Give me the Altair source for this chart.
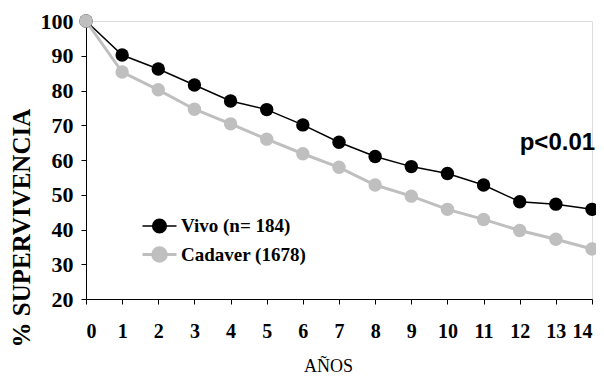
import altair as alt
import pandas as pd

years = list(range(15))
vivo = [100, 90.2, 86.2, 81.6, 77.0, 74.5, 70.1, 65.1, 61.0, 58.1, 56.1, 52.8, 48.0, 47.3, 45.8]
cadaver = [100, 85.3, 80.2, 74.6, 70.4, 66.0, 61.8, 57.9, 52.8, 49.6, 45.8, 42.9, 39.7, 37.2, 34.4]
y_ticks = list(range(20, 101, 10))
series_names = ["Vivo (n= 184)", "Cadaver (1678)"]
series_colors = ["#000000", "#bfbfbf"]
annot_text = ["p<0.01"]
annot_x = [12.0]
annot_y = [62.9]

rows = []
for name, vals in zip(series_names, [vivo, cadaver]):
    for yr, v in zip(years, vals):
        rows.append({"year": yr, "surv": v, "serie": name})
df = pd.DataFrame(rows)
ann = pd.DataFrame({"t": annot_text, "x": annot_x, "y": annot_y})

SERIF = "Liberation Serif"

xs = alt.Scale(domain=[0, 14], nice=False)
ys = alt.Scale(domain=[20, 100], nice=False)
cs = alt.Scale(domain=series_names, range=series_colors)

sym = "M-1,0 L-0.4,0 M0.4,0 L1,0 M-0.4,0 A0.4,0.4 0 1,0 0.4,0 A0.4,0.4 0 1,0 -0.4,0 Z"

x_enc = alt.X("year:Q", scale=xs, axis=alt.Axis(
    title="AÑOS", values=years, format="d", labelOverlap=False, tickCount=15,
    labelFontSize=20, labelPadding=17,
    titleFontWeight="normal", titleFontSize=18, titlePadding=16, titleX=242))
y_enc = alt.Y("surv:Q", scale=ys, axis=alt.Axis(
    title="% SUPERVIVENCIA", values=y_ticks, labelOverlap=False, tickCount=9,
    labelFontSize=22, labelPadding=8,
    titleFontWeight="bold", titleFontSize=25,
    titleAngle=270, titleAlign="left", titleBaseline="alphabetic",
    titleX=-57, titleY=326))

base = alt.Chart(df).encode(x=x_enc, y=y_enc)

lines = base.mark_line().encode(
    color=alt.Color("serie:N", scale=cs, sort=series_names, legend=alt.Legend(
        title=None, orient="none", legendX=55, legendY=187,
        symbolType=sym, symbolSize=1156, symbolStrokeWidth=2,
        labelFontSize=19, rowPadding=-9, labelOffset=3)),
    strokeWidth=alt.StrokeWidth("serie:N", scale=alt.Scale(domain=series_names, range=[1.5, 3]), legend=None),
)
points = base.mark_point(filled=True, opacity=1, size=180, shape="circle").encode(
    color=alt.Color("serie:N", scale=cs, sort=series_names),
)
text = alt.Chart(ann).mark_text(align="left", baseline="alphabetic", font="Liberation Sans",
                                fontWeight="bold", fontSize=24, color="black").encode(
    x=alt.X("x:Q", scale=xs), y=alt.Y("y:Q", scale=ys), text="t:N")

chart = alt.layer(lines, points, text).properties(
    width=506, height=278,
    autosize=alt.AutoSizeParams(type="none"),
    padding={"left": 78, "top": 13, "right": 4, "bottom": 76},
).configure_view(stroke=None).configure(background="white").configure_axis(
    grid=False, domainColor="black", tickColor="black", tickSize=5,
    labelFont=SERIF, labelFontWeight="bold", labelColor="black",
    titleFont=SERIF, titleColor="black",
).configure_legend(
    labelFont=SERIF, labelFontWeight="bold", labelColor="black",
)

chart.save("out.html", embed_options={"renderer": "svg", "actions": False})
